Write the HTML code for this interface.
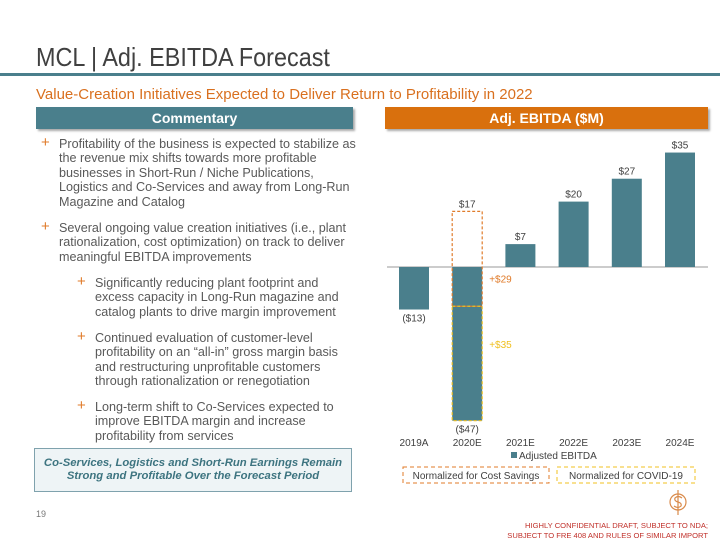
<!DOCTYPE html>
<html><head><meta charset="utf-8"><style>
body{margin:0;width:720px;height:540px;position:relative;background:#fff;font-family:"Liberation Sans",sans-serif;overflow:hidden}
.abs{position:absolute}
.p{position:absolute;font-size:12.6px;line-height:14.4px;color:#595959;white-space:nowrap}
.plus{position:absolute;color:#e07b2a;font-size:15px;line-height:14px}
</style></head><body>
<div class="abs" style="left:36px;top:42px;font-size:26px;color:#404040;transform:scaleX(0.9);transform-origin:left top;white-space:nowrap">MCL | Adj. EBITDA Forecast</div>
<div class="abs" style="left:0;top:73px;width:720px;height:3px;background:#4a7f8c"></div>
<div class="abs" style="left:36px;top:86px;font-size:15px;color:#d9701f;">Value-Creation Initiatives Expected to Deliver Return to Profitability in 2022</div>
<div class="abs" style="left:36px;top:107px;width:317px;height:22px;background:#4a7f8c;color:#fff;font-weight:bold;font-size:14px;line-height:22px;text-align:center;box-shadow:2px 2px 2px #aaa">Commentary</div>
<div class="abs" style="left:385px;top:107px;width:323px;height:22px;background:#d9700d;color:#fff;font-weight:bold;font-size:14px;line-height:22px;text-align:center;box-shadow:2px 2px 2px #aaa">Adj. EBITDA ($M)</div>

<div class="plus" style="left:41px;top:136px">+</div>
<div class="p" style="left:59px;top:137px">Profitability of the business is expected to stabilize as<br>the revenue mix shifts towards more profitable<br>businesses in Short-Run / Niche Publications,<br>Logistics and Co-Services and away from Long-Run<br>Magazine and Catalog</div>
<div class="plus" style="left:41px;top:220px">+</div>
<div class="p" style="left:59px;top:221px">Several ongoing value creation initiatives (i.e., plant<br>rationalization, cost optimization) on track to deliver<br>meaningful EBITDA improvements</div>
<div class="plus" style="left:77px;top:275px">+</div>
<div class="p" style="left:95px;top:276px">Significantly reducing plant footprint and<br>excess capacity in Long-Run magazine and<br>catalog plants to drive margin improvement</div>
<div class="plus" style="left:77px;top:330px">+</div>
<div class="p" style="left:95px;top:331px">Continued evaluation of customer-level<br>profitability on an “all-in” gross margin basis<br>and restructuring unprofitable customers<br>through rationalization or renegotiation</div>
<div class="plus" style="left:77px;top:399px">+</div>
<div class="p" style="left:95px;top:400px">Long-term shift to Co-Services expected to<br>improve EBITDA margin and increase<br>profitability from services</div>
<div class="abs" style="left:34px;top:448px;width:316px;height:42px;border:1px solid #7fa2ad;background:#eef4f6;color:#3d7480;font-style:italic;font-weight:bold;font-size:11.3px;line-height:13.5px;text-align:center;display:flex;align-items:center;justify-content:center;white-space:nowrap">Co-Services, Logistics and Short-Run Earnings Remain<br>Strong and Profitable Over the Forecast Period</div>
<div class="abs" style="left:36px;top:509px;font-size:9px;color:#777">19</div>
<div class="abs" style="right:12px;top:521px;font-size:7.6px;line-height:10px;color:#c0302a;text-align:right">HIGHLY CONFIDENTIAL DRAFT, SUBJECT TO NDA;<br>SUBJECT TO FRE 408 AND RULES OF SIMILAR IMPORT</div>
<svg class="abs" style="left:666px;top:490px" width="24" height="26"><circle cx="12" cy="12" r="8" fill="none" stroke="#d98a4a" stroke-width="1.2"/><line x1="12" y1="0" x2="12" y2="25" stroke="#d98a4a" stroke-width="1.2"/><path d="M16 8 Q12 5 9 8 Q8 11 12 12 Q16 13 15 16 Q12 19 8 16" fill="none" stroke="#d98a4a" stroke-width="1.2"/></svg>

<svg id="chart" class="abs" style="left:0;top:0" width="720" height="540"></svg>
<script>
const categories=["2019A","2020E","2021E","2022E","2023E","2024E"];
const ebitda=[-13,-47,7,20,27,35];
const labels=["($13)","($47)","$7","$20","$27","$35"];
const costSavings=29;
const covidAdj=35;
const normalized2020=17;
const NS="http://www.w3.org/2000/svg";
const svg=document.getElementById("chart");
const y0=267, k=3.27, x0=414, pitch=53.2, bw=30;
const y=v=>y0-v*k, x=i=>x0+i*pitch;
function mk(t,a){const e=document.createElementNS(NS,t);for(const q in a)e.setAttribute(q,a[q]);svg.appendChild(e);return e;}
function txt(s,xx,yy,fill,anchor){const e=mk("text",{x:xx,y:yy,fill:fill,"font-size":"10","text-anchor":anchor||"middle","font-family":"Liberation Sans, sans-serif"});e.textContent=s;return e;}
const ax=mk("line",{x1:387,x2:708,y1:y0,y2:y0,stroke:"#999","stroke-width":1});


categories.forEach((c,i)=>{
  const v=ebitda[i];
  const r=mk("rect",{x:x(i)-bw/2,y:Math.min(y(v),y0),width:bw,height:Math.abs(y(v)-y0),fill:"#4a7f8c"});
  
  
  const ly=v>=0?y(v)-4:y(v)+12;
  const l=txt(labels[i],x(i),ly,"#404040");
  
  
  const t=txt(c,x(i),446,"#404040");
  
  
});
const i2=1;
const c1=mk("rect",{x:x(i2)-bw/2,y:y(normalized2020),width:bw,height:y(-costSavings+normalized2020)-y(normalized2020),fill:"none",stroke:"#e07b2a","stroke-dasharray":"3,2","stroke-width":1.2});


const c2=mk("rect",{x:x(i2)-bw/2,y:y(normalized2020-costSavings),width:bw,height:y(ebitda[1])-y(normalized2020-costSavings),fill:"none",stroke:"#f0c020","stroke-dasharray":"3,2","stroke-width":1.2});


const n=txt("$17",x(i2),y(normalized2020)-4,"#404040");


const a1=txt("+$"+costSavings,x(i2)+bw/2+7,y((normalized2020+normalized2020-costSavings)/2-6)+4,"#e07b2a","start");


const a2=txt("+$"+covidAdj,x(i2)+bw/2+7,y((normalized2020-costSavings+ebitda[1])/2+6)+4,"#f0c020","start");


const lg=mk("rect",{x:511,y:452,width:6,height:6,fill:"#4a7f8c"});


const lt=txt("Adjusted EBITDA",519,459,"#404040","start");


const b1=mk("rect",{x:403,y:467,width:146,height:16,fill:"none",stroke:"#e07b2a","stroke-dasharray":"4,3"});


const bt1=txt("Normalized for Cost Savings",476,479,"#404040");


const b2=mk("rect",{x:557,y:467,width:138,height:16,fill:"none",stroke:"#f0c020","stroke-dasharray":"4,3"});


const bt2=txt("Normalized for COVID-19",626,479,"#404040");


</script>
</body></html>
